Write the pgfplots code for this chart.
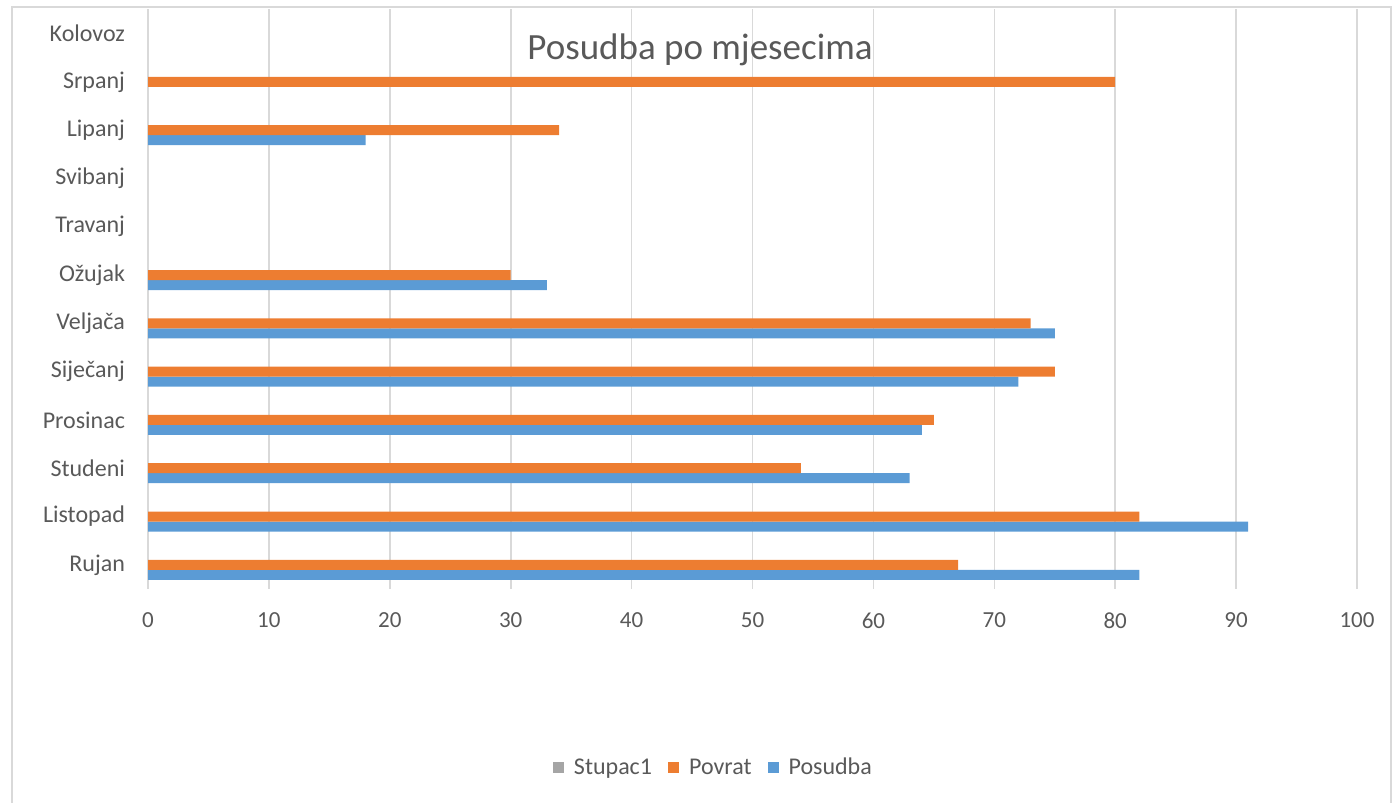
\documentclass[border=0pt]{standalone}
\usepackage{pgfplots}
\pgfplotsset{compat=1.18}
\usepackage{fontspec}
\setmainfont{Carlito}
\definecolor{cblue}{HTML}{5B9BD5}
\definecolor{corange}{HTML}{ED7D31}
\definecolor{cgray}{HTML}{A5A5A5}
\definecolor{ctext}{HTML}{595959}
\definecolor{cgrid}{HTML}{D9D9D9}
\begin{document}
\begin{tikzpicture}
\path[use as bounding box] (0pt,0pt) rectangle (700pt,401pt);
\draw[cgrid, line width=0.8pt] (6pt,-2pt) -- (6pt,397.5pt) -- (695.5pt,397.5pt) -- (695.5pt,-2pt);
\begin{axis}[
  at={(74pt,106.5pt)}, anchor=south west,
  scale only axis, width=604.5pt, height=289.8pt,
  xbar, bar width=0.207,
  xmin=0, xmax=100, xtick distance=10,
  ymin=-0.5, ymax=11.5,
  ytick={0,...,11},
  yticklabels={Rujan,Listopad,Studeni,Prosinac,Siječanj,Veljača,Ožujak,Travanj,Svibanj,Lipanj,Srpanj,Kolovoz},
  axis line style={draw=none},
  major tick length=0pt,
  xmajorgrids, grid style={cgrid, line width=0.8pt},
  tick label style={text=ctext},
  xticklabel style={yshift=-8.5pt, font=\fontsize{11.5}{13}\selectfont},
  yticklabel style={xshift=-8pt, font=\fontsize{12}{14}\selectfont},
  /pgf/number format/assume math mode=true,
  clip=false,
  legend style={at={(0.4685,-0.3088)}, anchor=center, draw=none, fill=none,
    legend columns=3, font=\fontsize{12}{14}\selectfont, text=ctext,
    /tikz/every odd column/.append style={column sep=3pt},
    /tikz/every even column/.append style={column sep=6pt}},
  legend image code/.code={\fill[#1, draw=none] (0pt,-2.75pt) rectangle (5.5pt,2.75pt);},
]
\addlegendimage{fill=cgray}\addlegendentry{Stupac1}
\addlegendimage{fill=corange}\addlegendentry{Povrat}
\addlegendimage{fill=cblue}\addlegendentry{Posudba}
\addplot[forget plot, fill=cblue, draw=none, bar shift=-0.207] coordinates {
(82,0) (91,1) (63,2) (64,3) (72,4) (75,5) (33,6) (18,9)};
\addplot[forget plot, fill=corange, draw=none, bar shift=0] coordinates {
(67,0) (82,1) (54,2) (65,3) (75,4) (73,5) (30,6) (34,9) (80,10)};
\end{axis}
\node[text=ctext, font=\fontsize{18.5}{22}\selectfont] at (350pt,376pt) {Posudba po mjesecima};
\end{tikzpicture}
\end{document}
